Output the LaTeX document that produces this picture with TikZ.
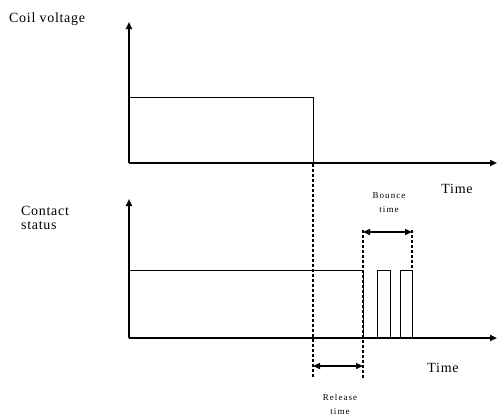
\documentclass[tikz,border=0pt]{standalone}
\usepackage{fontspec}
\setmainfont{Liberation Serif}
\usetikzlibrary{arrows.meta, positioning}
\tikzset{
	axis/.style  ={-{Triangle[length=7pt, width=6pt]}, line width=1.8pt},
	sig/.style   ={line width=0.7pt},
	guide/.style ={line width=1.8pt, dash pattern=on 3pt off 2pt},
	span/.style  ={{Triangle[length=7pt, width=6pt]}-{Triangle[length=7pt, width=6pt]}, line width=1.4pt},
	lbl/.style   ={font=\fontsize{14}{15}\selectfont\addfontfeature{LetterSpace=5}, inner sep=0pt, align=left},
	small/.style ={font=\fontsize{9}{14}\selectfont\addfontfeature{LetterSpace=12}, inner sep=0pt, align=center},
}
\begin{document}
\begin{tikzpicture}[x=1pt, y=-1pt]
	\useasboundingbox (0,0) rectangle (497,416);
	% coil voltage
	\coordinate (o1) at (129,163);
	\coordinate (y1) at (129,22);
	\coordinate (x1) at (497,163);
	\draw[axis] (o1) -- (y1);
	\draw[axis] (o1) -- (x1);
	\coordinate (c1) at (129,97);
	\coordinate (c2) at (313,97);
	\coordinate (c3) at (313,163);
	\draw[sig] (c1) -- (c2) -- (c3);
	\node[lbl, anchor=west] (coil) at (9,19) {Coil voltage};
	\node[lbl] (time1) at (457,189) {Time};
	% contact status
	\coordinate (o2) at (129,338);
	\coordinate (y2) at (129,199);
	\coordinate (x2) at (497,338);
	\draw[axis] (o2) -- (y2);
	\draw[axis] (o2) -- (x2);
	\coordinate (s1) at (129,270);
	\coordinate (s2) at (363,270);
	\coordinate (s3) at (363,338);
	\draw[sig] (s1) -- (s2) -- (s3) -- (377,338) -- (377,270) -- (390,270) -- (390,338)
		-- (400,338) -- (400,270) -- (412,270) -- (412,338);
	\node[lbl, anchor=west] (contact) at (21,218) {Contact\\[-1pt]status};
	\node[lbl] (time2) at (443,368) {Time};
	% release and bounce
	\coordinate (r1) at (313,164);
	\coordinate (r2) at (313,378);
	\coordinate (q1) at (363,230);
	\coordinate (q2) at (363,378);
	\coordinate (b1) at (412,230);
	\coordinate (b2) at (412,270);
	\draw[guide] (r1) -- (r2);
	\draw[guide] (q1) -- (q2);
	\draw[guide] (b1) -- (b2);
	\coordinate (ra) at (313,366);
	\coordinate (rb) at (363,366);
	\draw[span] (ra) -- (rb);
	\coordinate (ba) at (363,232);
	\coordinate (bb) at (412,232);
	\draw[span] (ba) -- (bb);
	\node[small] (bounce) at (389,203) {Bounce\\time};
	\node[small] (release) at (340,404) {Release\\time};
\end{tikzpicture}
\end{document}
